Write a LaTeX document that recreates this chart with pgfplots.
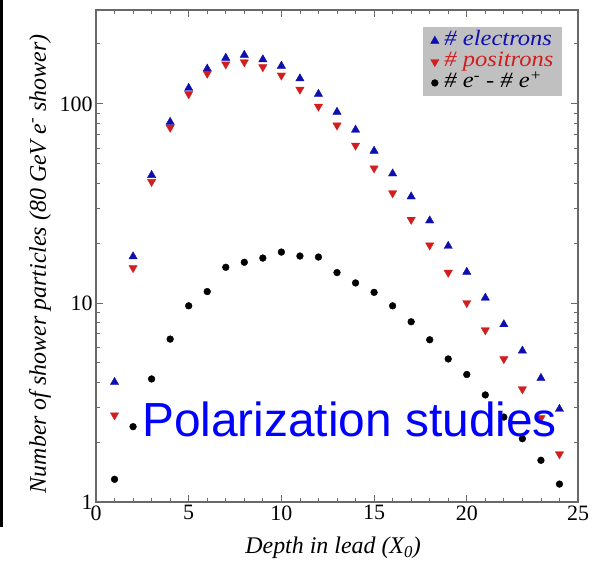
\documentclass[border=0pt]{standalone}
\usepackage{pgfplots}
\pgfplotsset{compat=1.18}
\usepackage{fontspec}
\setmainfont{Liberation Serif}
\newfontfamily\polfont{Liberation Sans}
\newfontfamily\legfont{Liberation Serif}[FakeStretch=1.12]
\definecolor{eblue}{RGB}{15,15,175}
\definecolor{pred}{RGB}{210,30,30}
\definecolor{framegray}{RGB}{105,105,105}
\definecolor{leggray}{RGB}{192,192,192}
\begin{document}
\begin{tikzpicture}
\begin{axis}[
  scale only axis, width=482bp, height=492bp,
  at={(0,0)}, anchor=south west,
  xmin=0, xmax=26, ymin=1, ymax=296, ymode=log,
  xtick={0,5,10,15,20,26}, xticklabels={0,5,10,15,20,25},
  minor xtick={1,2,3,4,6,7,8,9,11,12,13,14,16,17,18,19,21,22,23,24,25},
  ytick={1,10,100}, yticklabels={1,10,100},
  minor ytick={2,3,4,5,6,7,8,9,20,30,40,50,60,70,80,90,200},
  tick align=inside, major tick length=7bp, minor tick length=4bp,
  axis line style={framegray, line width=1.2bp},
  every tick/.style={framegray, line width=0.8bp},
  tick label style={font=\fontsize{22}{22}\selectfont},
  /pgf/number format/assume math mode=true,
  xlabel={\itshape Depth in lead (X\textsubscript{0})},
  ylabel={\itshape Number of shower particles (80 GeV e\textsuperscript{-} shower)},
  label style={font=\fontsize{24}{24}\selectfont},
  xlabel style={at={(axis description cs:0.492,-0.0935)}, anchor=center},
  ylabel style={at={(axis description cs:-0.116,0.484)}, anchor=center, rotate=0},
  legend style={at={(0.967,0.965)}, anchor=north east, fill=leggray, draw=none,
    font=\legfont\fontsize{22}{22}\selectfont\itshape, inner xsep=8bp, inner ysep=3bp,
    row sep=0pt, column sep=5bp,
    nodes={inner sep=0.5bp, text height=15bp, text depth=5bp}},
  legend cell align=left,
]
\addplot[only marks, mark=triangle*, mark size=4.8bp, color=eblue] coordinates {
(1,4.0) (2,17.1) (3,43.8) (4,81) (5,120) (6,150) (7,170) (8,176) (9,167) (10,155)
(11,134) (12,112) (13,91) (14,74) (15,58) (16,44.6) (17,34.2) (18,25.9) (19,19.3) (20,14.3)
(21,10.6) (22,7.8) (23,5.75) (24,4.19) (25,2.93)};
\addlegendentry{\textcolor{eblue}{\# electrons}}
\addplot[only marks, mark=triangle*, mark size=4.8bp, mark options={rotate=180}, color=pred] coordinates {
(1,2.73) (2,15.0) (3,40.6) (4,76) (5,112) (6,142) (7,158) (8,162) (9,153) (10,139)
(11,118) (12,97) (13,78) (14,61.8) (15,47.5) (16,35.6) (17,26.2) (18,19.5) (19,14.2) (20,10.0)
(21,7.3) (22,5.23) (23,3.69) (24,2.64) (25,1.74)};
\addlegendentry{\textcolor{pred}{\# positrons}}
\addplot[only marks, mark=*, mark size=3.4bp, color=black] coordinates {
(1,1.30) (2,2.39) (3,4.15) (4,6.58) (5,9.67) (6,11.4) (7,15.1) (8,16.0) (9,16.8) (10,18.0)
(11,17.2) (12,17.0) (13,14.2) (14,12.6) (15,11.3) (16,9.67) (17,8.04) (18,6.53) (19,5.23) (20,4.37)
(21,3.45) (22,2.67) (23,2.08) (24,1.62) (25,1.23)};
\addlegendentry{\# e\textsuperscript{-} - \# e\textsuperscript{+}}
\end{axis}
\node[font=\polfont\fontsize{48}{48}\selectfont, text=blue, anchor=base, inner sep=0pt] at (253.5bp,65bp) {Polarization studies};
\draw[black, line width=2.6bp] (-94.7bp,502bp) -- (-94.7bp,-25bp);
\pgfresetboundingbox
\useasboundingbox (-96bp,-64bp) rectangle (510bp,502bp);
\end{tikzpicture}
\end{document}
